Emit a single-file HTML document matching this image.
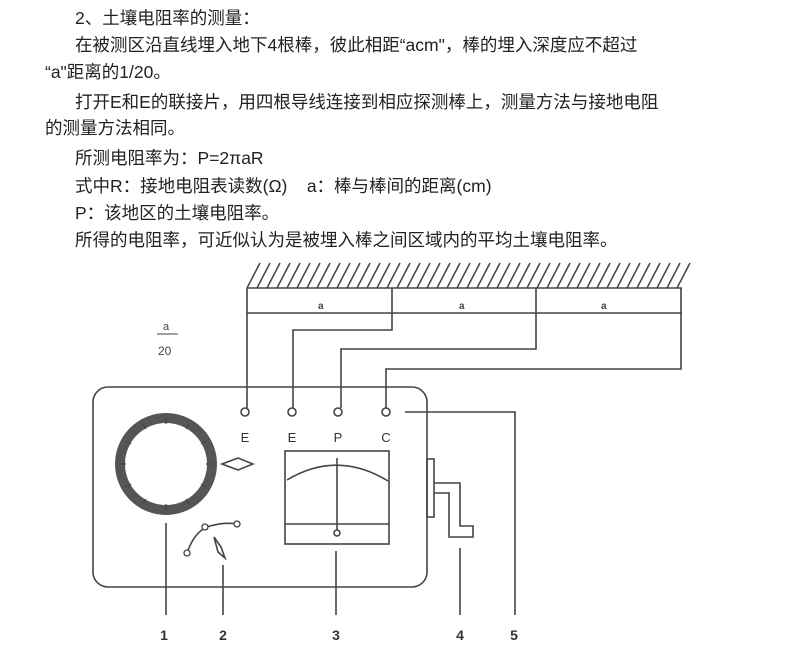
<!DOCTYPE html>
<html><head><meta charset="utf-8"><style>
body{margin:0;background:#fff;width:790px;height:669px;overflow:hidden;position:relative;font-family:"Liberation Sans","Noto Sans CJK SC",sans-serif;color:#222}
.t{position:absolute;font-size:17.5px;white-space:nowrap;line-height:20px}
svg{position:absolute;left:0;top:0}
</style></head><body>
<div class="t" style="left:75px;top:8px">2、土壤电阻率的测量：</div>
<div class="t" style="left:75px;top:35px">在被测区沿直线埋入地下4根棒，彼此相距“acm"，棒的埋入深度应不超过</div>
<div class="t" style="left:45px;top:62px">“a"距离的1/20。</div>
<div class="t" style="left:75px;top:92px">打开E和E的联接片，用四根导线连接到相应探测棒上，测量方法与接地电阻</div>
<div class="t" style="left:45px;top:118px">的测量方法相同。</div>
<div class="t" style="left:75px;top:148px">所测电阻率为：P=2πaR</div>
<div class="t" style="left:75px;top:176px">式中R：接地电阻表读数(Ω)&nbsp;&nbsp;&nbsp;&nbsp;a：棒与棒间的距离(cm)</div>
<div class="t" style="left:75px;top:203px">P：该地区的土壤电阻率。</div>
<div class="t" style="left:75px;top:230px">所得的电阻率，可近似认为是被埋入棒之间区域内的平均土壤电阻率。</div>
<svg width="790" height="669" viewBox="0 0 790 669" fill="none" stroke="#444" stroke-width="1.6">
<g stroke-width="1.5">
<path d="M247 288 L260 263 M257 288 L270 263 M267 288 L280 263 M277 288 L290 263 M287 288 L300 263 M297 288 L310 263 M307 288 L320 263 M317 288 L330 263 M327 288 L340 263 M337 288 L350 263 M347 288 L360 263 M357 288 L370 263 M367 288 L380 263 M377 288 L390 263 M387 288 L400 263 M397 288 L410 263 M407 288 L420 263 M417 288 L430 263 M427 288 L440 263 M437 288 L450 263 M447 288 L460 263 M457 288 L470 263 M467 288 L480 263 M477 288 L490 263 M487 288 L500 263 M497 288 L510 263 M507 288 L520 263 M517 288 L530 263 M527 288 L540 263 M537 288 L550 263 M547 288 L560 263 M557 288 L570 263 M567 288 L580 263 M577 288 L590 263 M587 288 L600 263 M597 288 L610 263 M607 288 L620 263 M617 288 L630 263 M627 288 L640 263 M637 288 L650 263 M647 288 L660 263 M657 288 L670 263 M667 288 L680 263 M677 288 L690 263"/>
</g>
<path d="M247 288 H682"/>
<path d="M247 313 H682"/>
<path d="M247 288 V408 M392 288 V330 H293 V408 M536 288 V349 H341 V408 M681 288 V369 H386 V408"/>
<g fill="#444" stroke="none" font-family="Liberation Sans,sans-serif" font-size="10" font-weight="bold">
<text x="318" y="309">a</text><text x="459" y="309">a</text><text x="601" y="309">a</text>
</g>
<g fill="#444" stroke="none" font-family="Liberation Sans,sans-serif">
<text x="163" y="330" font-size="11">a</text>
<text x="158" y="355" font-size="12">20</text>
</g>
<path d="M157 334 H178" stroke-width="1"/>
<rect x="93" y="387" width="334" height="200" rx="15"/>
<g fill="#fff"><circle cx="245" cy="412" r="4"/><circle cx="292" cy="412" r="4"/><circle cx="338" cy="412" r="4"/><circle cx="386" cy="412" r="4"/></g>
<g fill="#333" stroke="none" font-size="13" font-family="Liberation Sans,sans-serif" text-anchor="middle">
<text x="245" y="442">E</text><text x="292" y="442">E</text><text x="338" y="442">P</text><text x="386" y="442">C</text>
</g>
<g fill="#333" stroke="none" font-size="14" font-weight="bold" font-family="Liberation Sans,sans-serif" text-anchor="middle">
<text x="164" y="640">1</text><text x="223" y="640">2</text><text x="336" y="640">3</text><text x="460" y="640">4</text><text x="514" y="640">5</text>
</g>
<circle cx="166" cy="464" r="46" stroke-width="10" stroke="#555"/>
<g stroke-width="1.2"><path d="M166 418 V424 M189 424 l-3 5 M206 441 l-5 3 M212 464 h-6 M206 487 l-5 -3 M189 504 l-3 -5 M166 510 v-6 M143 504 l3 -5 M126 487 l5 -3 M120 464 h6 M126 441 l5 3 M143 424 l3 5"/></g>
<path d="M222 464 L238 458 L253 464 L238 470 Z"/>
<path d="M187 553 Q195 530 210 526 T237 524"/>
<g fill="#fff" stroke-width="1.3"><circle cx="187" cy="553" r="3"/><circle cx="205" cy="527" r="3"/><circle cx="237" cy="524" r="3"/></g>
<path d="M214 537 L221 547 L225 558 L218 552 Z"/>
<rect x="285" y="451" width="104" height="93"/>
<path d="M285 524 H389"/>
<path d="M287 480 Q337 450 388 481"/>
<path d="M337 458 V530"/>
<circle cx="337" cy="533" r="3"/>
<rect x="427" y="459" width="7" height="58"/>
<path d="M434 483 H460 V526 H473 V537 H449 V493 H434"/>
<path d="M405 412 H515 V615"/>
<path d="M166 523 V615 M223 565 V615 M336 551 V615 M460 548 V615"/>
</svg>
</body></html>
